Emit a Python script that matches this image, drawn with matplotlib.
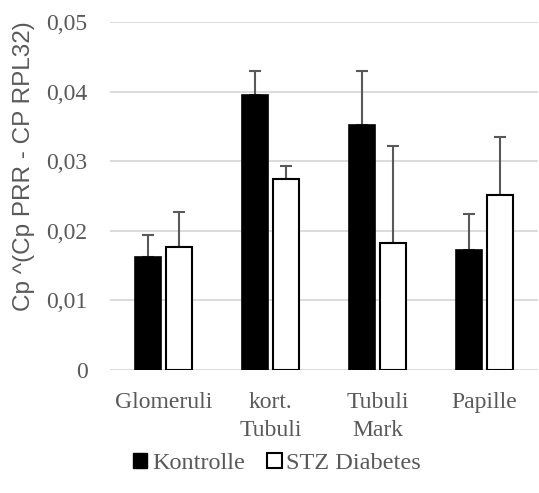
import matplotlib.pyplot as plt
import numpy as np
from matplotlib.patches import Patch

# Expressionswerte je Region
regionen = ["Glomeruli", "kort.\nTubuli", "Tubuli\nMark", "Papille"]
kontrolle = [0.0162, 0.0395, 0.0352, 0.0172]
kontrolle_sd = [0.0032, 0.0035, 0.0078, 0.0052]
stz = [0.0177, 0.0274, 0.0183, 0.0251]
stz_sd = [0.0050, 0.0019, 0.0139, 0.0084]
yticks = [0, 0.01, 0.02, 0.03, 0.04, 0.05]
ytick_labels = ["0", "0,01", "0,02", "0,03", "0,04", "0,05"]

grau = "#595959"
serif = ["Liberation Serif", "DejaVu Serif"]

fig = plt.figure(figsize=(5.39, 4.93), dpi=100)
ax = fig.add_axes([0.204, 0.2495, 0.794, 0.7055])

x = np.arange(len(regionen))
w = 0.245
off = 0.146
err_kw = dict(ecolor=grau, elinewidth=1.5, capsize=4.3, capthick=1.5)

ax.bar(x - off, kontrolle, w, color="black", edgecolor="black", linewidth=1.2,
       zorder=3)
ax.bar(x + off, stz, w, color="white", edgecolor="black", linewidth=1.5,
       zorder=3)
ax.errorbar(x - off, kontrolle, yerr=[np.zeros(4), kontrolle_sd], fmt="none",
            zorder=2, **err_kw)
ax.errorbar(x + off, stz, yerr=[np.zeros(4), stz_sd], fmt="none",
            zorder=2, **err_kw)

ax.set_xlim(-0.5, 3.5)
ax.set_ylim(0, 0.05)
ax.set_yticks(yticks)
ax.set_yticklabels(ytick_labels, family=serif, fontsize=17, color=grau)
ax.set_xticks(x)
ax.set_xticklabels(regionen, family=serif, fontsize=17, color=grau,
                   linespacing=1.4)
ax.tick_params(axis="both", length=0)
ax.tick_params(axis="y", pad=16)
ax.tick_params(axis="x", pad=16)
ax.grid(axis="y", color="#d9d9d9", linewidth=1.3, zorder=0)
for s in ax.spines.values():
    s.set_visible(False)

fig.text(24 / 539, 1 - 166 / 493, "Cp ^(Cp PRR - CP RPL32)", rotation=90,
         ha="center", va="center", fontsize=17.5, color=grau,
         family=["Liberation Sans", "DejaVu Sans"])

handles = [Patch(facecolor="black", edgecolor="black"),
           Patch(facecolor="white", edgecolor="black", linewidth=1.5)]
fig.legend(handles, ["Kontrolle", "STZ Diabetes"], loc="center",
           bbox_to_anchor=(0.514, 0.06), ncol=2, frameon=False,
           prop={"family": serif, "size": 17.5}, labelcolor=grau,
           handlelength=0.6, handleheight=0.6, handletextpad=0.2,
           columnspacing=0.9)

fig.savefig("out.png", dpi=100)
